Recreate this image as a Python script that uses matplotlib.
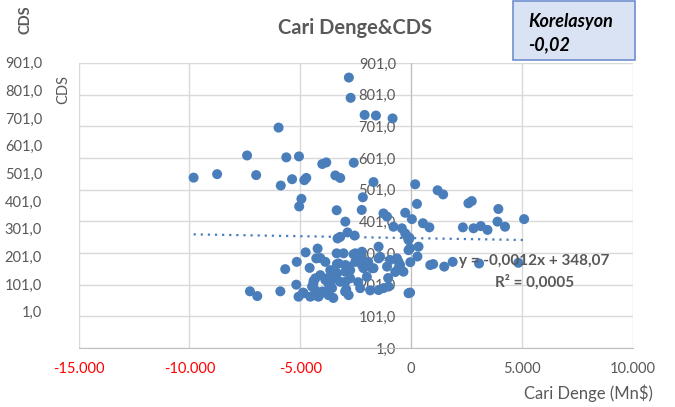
import matplotlib
matplotlib.use("Agg")
import matplotlib.pyplot as plt
from matplotlib.patches import Rectangle

# Current account balance (Mn$) vs CDS observations
cari_denge = [
    -2810, -2730, -2100, -1590, -840, -5980, -7400, -5630, -5060, -4010,
    -3830, -2590, -9810, -8750, -6990, -5880, -5370, -4820, -4730, -3420,
    -3200, -1700, -2180, -4950, -5050, -3360, -2230, -1250, -270, 260,
    180, 1190, 1440, 2580, 2730, 3930, 5090, -2970, -1090, -800,
    -420, 30, 530, 820, 2330, 2810, 3140, 3440, 3890, 4230,
    -3200, -2870, -2550, -3320, -200, -80, -4760, -4220, -4280, -5160,
    -5680, -4580, -3360, -3050, -2600, -2270, -2220, -1470, -1400, -950,
    -640, -120, -50, 330, 280, -3350, -3270, -2970, -2150, -1700,
    -1090, -570, -500, -350, -40, 860, 990, 1490, 1870, 3060,
    4830, -4100, -3800, -3500, -3340, -4400, -3650, -3200, -2750, -2000,
    -5180, -4410, -3640, -7270, -6940, -5900, -4880, -4320, -4070, -4310,
    -3730, -4850, -3950, -2980, -2930, -2300, -1850, -1470, -1250, -120,
    -4550, -3510, -50, -3870, -3650, -2750, -2520, -1940, -2390, -1040,
    -720, -4100, -2820, -2220, -1770, -3570, -2970, -4320, -3870, -3420,
    -2970, -3730, -4470, -4020, -3570, -5080, -4180, -3730, -2820, -1020,
    -2520, -1470, -570, -270, -120,
]
cds = [
    855, 791, 737, 735, 726, 697, 609, 603, 606, 582,
    587, 586, 539, 550, 547, 514, 534, 531, 538, 546,
    538, 525, 477, 472, 448, 436, 437, 426, 428, 456,
    518, 499, 486, 458, 465, 440, 408, 400, 416, 384,
    379, 408, 395, 382, 382, 379, 386, 374, 400, 384,
    352, 366, 356, 347, 355, 349, 303, 315, 284, 273,
    250, 254, 300, 300, 297, 289, 305, 321, 289, 279,
    284, 310, 316, 321, 290, 266, 268, 263, 253, 253,
    258, 253, 263, 242, 272, 263, 266, 258, 273, 268,
    270, 231, 221, 226, 237, 213, 216, 210, 221, 226,
    201, 205, 200, 180, 165, 180, 176, 183, 174, 167,
    184, 174, 179, 179, 186, 190, 183, 184, 190, 174,
    163, 159, 176, 273, 247, 247, 273, 273, 209, 222,
    241, 285, 258, 263, 253, 231, 242, 221, 216, 221,
    210, 205, 195, 179, 190, 163, 163, 168, 168, 195,
    300, 284, 273, 363, 342,
]

y_ticks = [1, 101, 201, 301, 401, 501, 601, 701, 801, 901]
x_ticks = [-15000, -10000, -5000, 0, 5000, 10000]
x_tick_labels = ["-15.000", "-10.000", "-5.000", "0", "5.000", "10.000"]
x_tick_colors = ["#ff0000", "#ff0000", "#ff0000", "#595959", "#595959", "#595959"]

trend_slope = -0.0012
trend_intercept = 348.07
trend_label = "y = -0,0012x + 348,07"
r2_label = "R² = 0,0005"
korelasyon = "-0,02"

plt.rcParams['font.family'] = ['Lato', 'DejaVu Sans']

GRAY = "#595959"
BLUE = "#4a7ebb"


def fmt_tr(v):
    return f"{v:.1f}".replace(".", ",")


W, H = 675, 407
fig = plt.figure(figsize=(W / 100, H / 100), dpi=100)

ax = fig.add_axes([78.5 / W, 59 / H, 554.5 / W, 285 / H])
ax.set_xlim(-15000, 10000)
ax.set_ylim(1, 901)
ax.set_xticks(x_ticks)
ax.set_xticklabels(x_tick_labels)
for lbl, c in zip(ax.get_xticklabels(), x_tick_colors):
    lbl.set_color(c)
ax.set_yticks(y_ticks)
ax.set_yticklabels([fmt_tr(v) for v in y_ticks])
ax.grid(True, color="#d9d9d9", lw=1.0)
ax.set_axisbelow(True)
for s in ("top", "right"):
    ax.spines[s].set_visible(False)
ax.spines["left"].set_position(("data", 0))
ax.spines["left"].set_color("#bfbfbf")
ax.spines["bottom"].set_color("#bfbfbf")
ax.tick_params(axis="y", length=0, pad=11, labelsize=10.5, labelcolor=GRAY)
ax.tick_params(axis="x", length=0, pad=10, labelsize=10.5)

ax.scatter(cari_denge, cds, s=52, color=BLUE, edgecolors="none", zorder=3)

# linear trend line drawn across the observed x range
x0, x1 = min(cari_denge), max(cari_denge)
ax.plot([x0, x1], [trend_slope * x0 + trend_intercept, trend_slope * x1 + trend_intercept],
        color=BLUE, lw=1.6, linestyle=(0, (1, 2.2)), zorder=4)

# outer CDS scale on the far left
ax_out = fig.add_axes([42 / W, (H - 311.7) / H, 0.0001, (311.7 - 62.7) / H])
ax_out.set_ylim(1, 901)
ax_out.set_yticks(y_ticks)
ax_out.set_yticklabels([fmt_tr(v) for v in y_ticks])
ax_out.set_xticks([])
for s in ax_out.spines.values():
    s.set_visible(False)
ax_out.patch.set_visible(False)
ax_out.tick_params(axis="y", length=0, pad=0, labelsize=10.5, labelcolor=GRAY)

fig.text(25 / W, 1 - 20 / H, "CDS", rotation=90, ha="center", va="center",
         fontsize=10.5, fontweight="bold", color=GRAY)
fig.text(63 / W, 1 - 89 / H, "CDS", rotation=90, ha="center", va="center",
         fontsize=10.5, color=GRAY)

fig.text(354.5 / W, 1 - 28 / H, "Cari Denge&CDS", ha="center", va="center",
         fontsize=14.5, fontweight="bold", color=GRAY)

fig.text(653 / W, 1 - 393 / H, "Cari Denge (Mn$)", ha="right", va="center",
         fontsize=12, color=GRAY)

fig.text(534.5 / W, 1 - 261 / H, trend_label, ha="center", va="center",
         fontsize=11, fontweight="bold", color=GRAY, zorder=5)
fig.text(534.5 / W, 1 - 282 / H, r2_label, ha="center", va="center",
         fontsize=11, fontweight="bold", color=GRAY, zorder=5)

# correlation note box
fig.patches.append(Rectangle((513 / W, 1 - 60 / H), 122 / W, 59 / H,
                             transform=fig.transFigure, facecolor="#dae3f3",
                             edgecolor="#6f8fcf", lw=1.2, zorder=5))
fig.text(528 / W, 1 - 21 / H, "Korelasyon", ha="left", va="center",
         fontsize=13, fontweight="bold", fontstyle="italic", color="black", zorder=6)
fig.text(528 / W, 1 - 45 / H, korelasyon, ha="left", va="center",
         fontsize=13, fontweight="bold", fontstyle="italic", color="black", zorder=6)

fig.savefig("out.png", dpi=100)
